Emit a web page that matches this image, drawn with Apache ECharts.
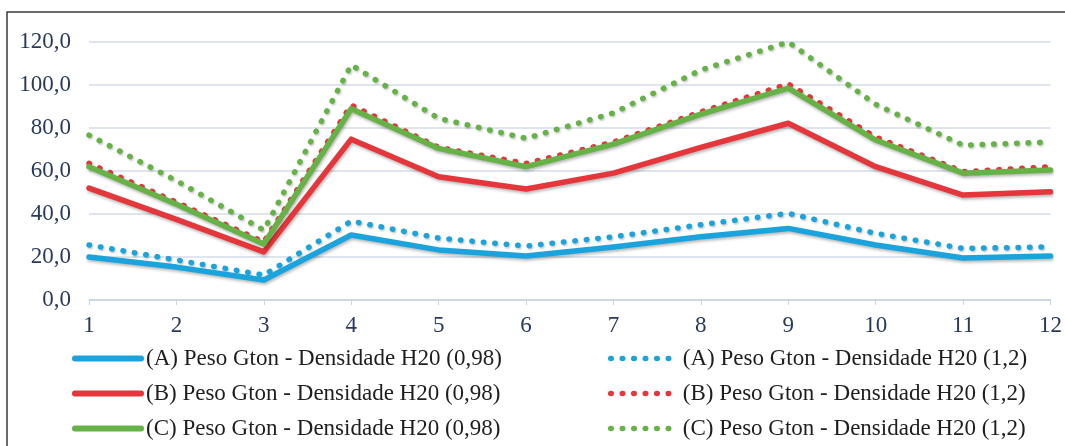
<!DOCTYPE html>
<html>
<head>
<meta charset="utf-8">
<style>
  html, body { margin: 0; padding: 0; background: #fff; }
  #chart { width: 1065px; height: 446px; }
</style>
<script src="https://cdn.jsdelivr.net/npm/echarts@6/dist/echarts.min.js"></script>
</head>
<body>
<div id="chart"></div>
<script>
// Horizontal categories (1..12)
const categories = ['1', '2', '3', '4', '5', '6', '7', '8', '9', '10', '11', '12'];

// Weight (Gton) per scenario, water density 0.98
const pesoA098 = [20.0, 15.3, 9.3, 30.2, 23.3, 20.5, 24.7, 29.4, 33.3, 25.6, 19.5, 20.5];
const pesoB098 = [52.0, 37.5, 22.4, 74.8, 57.3, 51.6, 59.0, 71.0, 82.2, 62.0, 48.8, 50.4];
const pesoC098 = [62.0, 44.5, 26.0, 89.0, 70.5, 62.0, 72.5, 86.5, 98.5, 74.4, 59.0, 60.5];

// Weight (Gton) per scenario, water density 1.2
const pesoA12 = [25.6, 18.6, 11.6, 36.7, 28.8, 25.1, 29.4, 35.0, 40.3, 31.0, 24.0, 24.7];
const pesoB12 = [63.6, 45.5, 27.0, 90.7, 71.0, 63.5, 73.5, 87.5, 100.5, 75.8, 59.7, 62.0];
const pesoC12 = [76.7, 55.5, 32.5, 109.3, 84.5, 75.2, 87.0, 107.0, 120.0, 91.0, 72.0, 73.5];

// Y axis range
const yMin = 0;
const yMax = 120;
const yStep = 20;

const names = {
  a098: '(A) Peso Gton - Densidade H20 (0,98)',
  b098: '(B) Peso Gton - Densidade H20 (0,98)',
  c098: '(C) Peso Gton - Densidade H20 (0,98)',
  a12: '(A) Peso Gton - Densidade H20 (1,2)',
  b12: '(B) Peso Gton - Densidade H20 (1,2)',
  c12: '(C) Peso Gton - Densidade H20 (1,2)'
};

const BLUE = '#1aa3dd';
const RED = '#e4363b';
const GREEN = '#66b247';
const FONT = '"Liberation Serif", "Times New Roman", serif';
const DOTS = [0.5, 11];

function solid(name, data, color) {
  return {
    name, type: 'line', data,
    symbol: 'none', showSymbol: false,
    lineStyle: {
      color, width: 5.5, cap: 'round', join: 'round',
      shadowColor: 'rgba(0,0,0,0.28)', shadowBlur: 3, shadowOffsetX: 1, shadowOffsetY: 2
    },
    itemStyle: { color },
    emphasis: { disabled: true }
  };
}

function dotted(name, data, color) {
  return {
    name, type: 'line', data,
    symbol: 'none', showSymbol: false,
    lineStyle: {
      color, width: 5.5, type: DOTS, cap: 'round', join: 'round',
      shadowColor: 'rgba(0,0,0,0.22)', shadowBlur: 2, shadowOffsetX: 1, shadowOffsetY: 1.5
    },
    itemStyle: { color },
    emphasis: { disabled: true }
  };
}

const legendText = { fontFamily: FONT, fontSize: 23, color: '#1e1e1e' };

// One legend entry per slot: two columns, three rows
function legendAt(name, left, top, width, isDotted) {
  return {
    left, top, padding: 0,
    itemWidth: width, itemHeight: 14,
    textStyle: legendText,
    itemStyle: { opacity: 0 },
    lineStyle: isDotted
      ? { width: 5.5, type: DOTS, cap: 'round', shadowBlur: 0 }
      : { width: 6, cap: 'round', shadowBlur: 0 },
    data: [name],
    selectedMode: false
  };
}

const chart = echarts.init(document.getElementById('chart'), null, { renderer: 'canvas' });
chart.setOption({
  animation: false,
  backgroundColor: '#ffffff',
  textStyle: { fontFamily: FONT },
  graphic: [{
    type: 'rect',
    shape: { x: 7, y: 12, width: 1100, height: 500 },
    style: { fill: 'none', stroke: '#3a3a3a', lineWidth: 1.5 },
    silent: true
  }],
  grid: { left: 89, right: 6, top: 42, bottom: 146, containLabel: false },
  legend: [
    legendAt(names.a098, 72, 347, 66, false),
    legendAt(names.b098, 72, 382, 66, false),
    legendAt(names.c098, 72, 417, 66, false),
    legendAt(names.a12, 608, 347, 67, true),
    legendAt(names.b12, 608, 382, 67, true),
    legendAt(names.c12, 608, 417, 67, true)
  ],
  xAxis: {
    type: 'category',
    data: categories,
    boundaryGap: false,
    axisLine: { lineStyle: { color: '#c9d4e2', width: 1.5 } },
    axisTick: { show: true, alignWithLabel: true, length: 5, lineStyle: { color: '#c9d4e2' } },
    axisLabel: { color: '#2a3a5a', fontSize: 23, fontFamily: FONT, margin: 14 }
  },
  yAxis: {
    type: 'value',
    min: yMin, max: yMax, interval: yStep,
    axisLine: { show: false },
    axisTick: { show: false },
    splitLine: { lineStyle: { color: '#d3dde9', width: 1.5 } },
    axisLabel: {
      color: '#2a3a5a', fontSize: 23, fontFamily: FONT, margin: 18,
      formatter: v => v.toFixed(1).replace('.', ',')
    }
  },
  series: [
    dotted(names.a12, pesoA12, BLUE),
    solid(names.a098, pesoA098, BLUE),
    solid(names.b098, pesoB098, RED),
    dotted(names.b12, pesoB12, RED),
    solid(names.c098, pesoC098, GREEN),
    dotted(names.c12, pesoC12, GREEN)
  ]
});
</script>
</body>
</html>
